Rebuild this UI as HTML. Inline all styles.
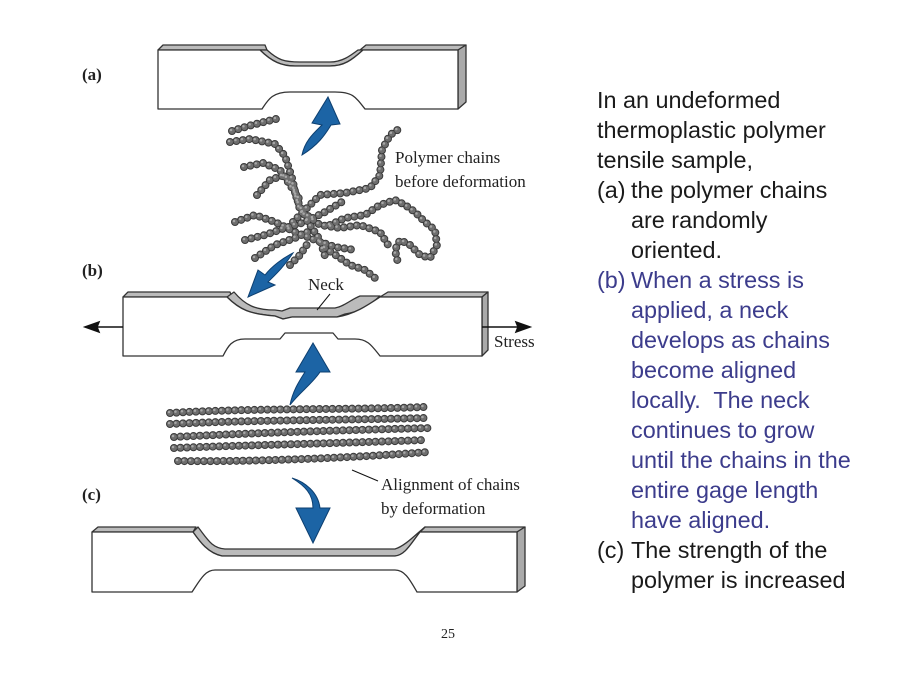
<!DOCTYPE html>
<html><head><meta charset="utf-8"><style>
html,body{margin:0;padding:0;background:#fff;}
#w{position:relative;width:900px;height:675px;overflow:hidden;}
.t{position:absolute;left:597px;font:23.4px "Liberation Sans",sans-serif;line-height:30px;color:#1a1a1a;white-space:nowrap}
.b{color:#3c3c8c}
</style></head><body><div id="w">
<svg width="900" height="675" style="position:absolute;left:0;top:0" font-family="Liberation Serif">
<g stroke="#333" stroke-width="1.3" stroke-linejoin="round">
<path d="M158,50 L163,45 L265,45 L267,50 Z" fill="#bbb"/>
<path d="M360,50 L366,45 L466,45 L458,50 Z" fill="#bbb"/>
<path d="M260,50 L267,50 C278,60 284,62 300,62 L330,62 C342,62 350,56 358,50 L363,50 C352,60 344,66 330,66 L295,66 C282,66 272,62 260,50 Z" fill="#bbb"/>
<path d="M458,50 L466,45 L466,102 L458,109 Z" fill="#aaa"/>
<path d="M158,50 L260,50 C272,62 282,66 295,66 L330,66 C344,66 352,60 363,50 L458,50 L458,109 L365,109 C355,96 352,92 335,92 L290,92 C272,92 268,100 262,109 L158,109 Z" fill="#fff"/>
<path d="M123,297 L128,292 L230,292 L232,297 Z" fill="#bbb"/>
<path d="M380,297 L388,292 L488,292 L482,297 Z" fill="#bbb"/>
<path d="M227,297 L234,292 C245,305 255,310 275,310 L282,311 L290,308 L335,308 C345,306 350,300 360,296 L380,296 C370,305 360,312 345,314 L337,317 L292,317 L283,319 L275,316 C250,314 240,310 227,297 Z" fill="#bbb"/>
<path d="M482,297 L488,292 L488,350 L482,356 Z" fill="#aaa"/>
<path d="M123,297 L227,297 C240,310 250,314 275,316 L283,319 L292,317 L337,317 C355,314 368,305 380,297 L482,297 L482,356 L380,356 C372,346 368,339 355,339 L338,339 L333,333 L285,333 L280,339 L245,339 C232,339 228,346 223,356 L123,356 Z" fill="#fff"/>
<path d="M92,532 L98,527 L196,527 L193,532 Z" fill="#bbb"/>
<path d="M420,532 L425,527 L525,527 L517,532 Z" fill="#bbb"/>
<path d="M193,532 L198,527 C208,540 212,548 225,549 L395,549 C405,546 415,535 425,527 L420,532 C410,545 405,555 395,556 L222,556 C208,553 200,542 193,532 Z" fill="#bbb"/>
<path d="M517,532 L525,527 L525,586 L517,592 Z" fill="#aaa"/>
<path d="M92,532 L193,532 C200,542 208,553 222,556 L395,556 C405,555 410,545 420,532 L517,532 L517,592 L417,592 C410,580 405,570 395,570 L215,570 C205,570 200,580 192,592 L92,592 Z" fill="#fff"/>
</g>
<g stroke="#111" stroke-width="1.5" fill="#111">
<line x1="123" y1="327" x2="95" y2="327"/><path d="M85,327 L99,322 L97,327 L99,332 Z"/>
<line x1="482" y1="327" x2="518" y2="327"/><path d="M530,327 L516,322 L518,327 L516,332 Z"/>
<line x1="317" y1="310" x2="330" y2="294" stroke-width="1"/>
<line x1="352" y1="470" x2="378" y2="481" stroke-width="1"/>
</g>
<g fill="#1c64a5" stroke="#0d3f70" stroke-width="1">
<path d="M302,155 C305,140 315,132 322,125 L312,123 L328,97 L340,124 L331,125 C325,135 318,145 302,155 Z"/>
<path d="M293,253 C283,258 272,266 265,275 L258,270 L248,297 L275,285 L268,282 C275,275 283,268 293,253 Z"/>
<path d="M290,405 C293,390 300,380 305,372 L296,372 L313,343 L330,372 L320,372 C312,384 300,392 290,405 Z"/>
<path d="M292,478 C305,486 313,494 313,508 L296,508 L313,543 L330,508 L320,508 C318,492 305,482 292,478 Z"/>
</g>
<g fill="none" stroke-linecap="round" stroke-linejoin="round">
<g id="ch" stroke-dasharray="0 6.5">
<path d="M232,131 L252,125 L280,118"/>
<path d="M230,142 L250,139 L275,144 L285,156 L292,178 L297,200 L310,225 L320,240 L325,256"/>
<path d="M244,167 L263,163 L280,170 L290,185 L300,200"/>
<path d="M257,195 L270,180 L285,175 L295,190 L300,210 L320,225 L340,228 L360,225 L380,232 L390,248"/>
<path d="M235,222 L255,215 L275,222 L295,232 L315,240 L335,247 L355,250"/>
<path d="M245,240 L265,235 L285,228 L305,222 L325,212 L345,200"/>
<path d="M293,222 L320,195 L345,193 L370,188 L380,175 L382,150 L390,135 L402,127"/>
<path d="M255,258 L275,245 L295,238 L312,230"/>
<path d="M330,225 L345,218 L365,215 L380,205 L395,200 L405,205 L415,212 L425,222 L435,230 L437,245 L430,258 L420,255 L410,245 L400,240 L395,250 L398,263"/>
<path d="M325,248 L340,258 L350,265 L365,270 L375,278"/>
<path d="M290,265 L300,255 L310,240"/>
<path d="M170,413 C250,408 350,410 425,407"/>
<path d="M170,424 C250,420 350,420 425,418"/>
<path d="M174,437 C250,433 350,430 430,428"/>
<path d="M174,448 C250,445 350,443 425,440"/>
<path d="M178,461 C250,462 350,458 428,452"/>
</g>
<use href="#ch" stroke="#3a3a3a" stroke-width="8"/>
<use href="#ch" stroke="#6e6e6e" stroke-width="6"/>
<use href="#ch" stroke="#a8a8a8" stroke-width="2.5" transform="translate(-1,-1)"/>
</g>
<g font-size="17" fill="#222">
<text x="82" y="80" font-weight="bold">(a)</text>
<text x="82" y="276" font-weight="bold">(b)</text>
<text x="82" y="500" font-weight="bold">(c)</text>
<text x="395" y="163">Polymer chains</text>
<text x="395" y="187">before deformation</text>
<text x="308" y="290">Neck</text>
<text x="494" y="347">Stress</text>
<text x="381" y="490">Alignment of chains</text>
<text x="381" y="514">by deformation</text>
<text x="441" y="638" font-size="14">25</text>
</g>
</svg>
<div class="t" style="top:85px">In an undeformed</div>
<div class="t" style="top:115px">thermoplastic polymer</div>
<div class="t" style="top:145px">tensile sample,</div>
<div class="t" style="top:175px">(a)<span style="position:absolute;left:34px">the polymer chains</span></div>
<div class="t" style="top:205px;left:631px">are randomly</div>
<div class="t" style="top:235px;left:631px">oriented.</div>
<div class="t b" style="top:265px">(b)<span style="position:absolute;left:34px">When a stress is</span></div>
<div class="t b" style="top:295px;left:631px">applied, a neck</div>
<div class="t b" style="top:325px;left:631px">develops as chains</div>
<div class="t b" style="top:355px;left:631px">become aligned</div>
<div class="t b" style="top:385px;left:631px">locally.&nbsp; The neck</div>
<div class="t b" style="top:415px;left:631px">continues to grow</div>
<div class="t b" style="top:445px;left:631px">until the chains in the</div>
<div class="t b" style="top:475px;left:631px">entire gage length</div>
<div class="t b" style="top:505px;left:631px">have aligned.</div>
<div class="t" style="top:535px">(c)<span style="position:absolute;left:34px">The strength of the</span></div>
<div class="t" style="top:565px;left:631px">polymer is increased</div>
</div></body></html>
